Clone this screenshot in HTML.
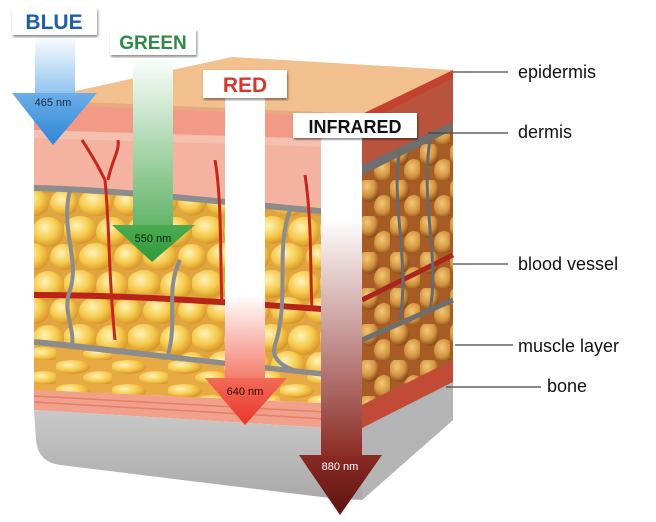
<!DOCTYPE html>
<html><head><meta charset="utf-8"><style>
html,body{margin:0;padding:0;background:#fff;width:656px;height:522px;overflow:hidden}
svg{display:block}
text{font-family:"Liberation Sans",sans-serif}
</style></head><body>
<svg width="656" height="522" viewBox="0 0 656 522" xmlns="http://www.w3.org/2000/svg">
<defs>
<radialGradient id="fatg" cx="40%" cy="35%" r="65%"><stop offset="0" stop-color="#fff3b8"/><stop offset="0.6" stop-color="#f5c94a"/><stop offset="1" stop-color="#d9962a"/></radialGradient>
<radialGradient id="fatb" cx="40%" cy="35%" r="65%"><stop offset="0" stop-color="#f2c877"/><stop offset="0.6" stop-color="#d39440"/><stop offset="1" stop-color="#8a4a1c"/></radialGradient>
<pattern id="fat" width="64" height="54" patternUnits="userSpaceOnUse">
<rect width="64" height="54" fill="#e0a540"/>
<ellipse cx="16" cy="14" rx="17" ry="14" fill="url(#fatg)"/>
<ellipse cx="48" cy="16" rx="16" ry="15" fill="url(#fatg)"/>
<ellipse cx="32" cy="41" rx="17" ry="14" fill="url(#fatg)"/>
<ellipse cx="0" cy="41" rx="14" ry="13" fill="url(#fatg)"/>
<ellipse cx="64" cy="41" rx="14" ry="13" fill="url(#fatg)"/>
</pattern>
<pattern id="fat2" width="56" height="24" patternUnits="userSpaceOnUse">
<rect width="56" height="24" fill="#e8aa45"/>
<ellipse cx="16" cy="7" rx="18" ry="7" fill="url(#fatg)"/>
<ellipse cx="44" cy="18" rx="17" ry="7" fill="url(#fatg)"/>
</pattern>
<pattern id="fatR" width="30" height="36" patternUnits="userSpaceOnUse">
<rect width="30" height="36" fill="#a65c24"/>
<ellipse cx="9" cy="10" rx="10" ry="12" fill="url(#fatb)"/>
<ellipse cx="24" cy="27" rx="10" ry="12" fill="url(#fatb)"/>
</pattern>
<linearGradient id="bone" x1="0" y1="0" x2="0" y2="1"><stop offset="0" stop-color="#c9c9c9"/><stop offset="1" stop-color="#a9a9a9"/></linearGradient>
<linearGradient id="gB" x1="0" y1="0" x2="0" y2="1"><stop offset="0" stop-color="#ffffff"/><stop offset="1" stop-color="#8fc3ee"/></linearGradient>
<linearGradient id="gBh" x1="0" y1="0" x2="0" y2="1"><stop offset="0" stop-color="#6aaee8"/><stop offset="1" stop-color="#2f86d6"/></linearGradient>
<linearGradient id="gG" x1="0" y1="0" x2="0" y2="1"><stop offset="0" stop-color="#ffffff"/><stop offset="1" stop-color="#63b468"/></linearGradient>
<linearGradient id="gGh" x1="0" y1="0" x2="0" y2="1"><stop offset="0" stop-color="#4cab50"/><stop offset="1" stop-color="#2e9a3b"/></linearGradient>
<linearGradient id="gR" x1="0" y1="0" x2="0" y2="1"><stop offset="0" stop-color="#ffffff"/><stop offset="0.7" stop-color="#ffffff"/><stop offset="1" stop-color="#f47a6a"/></linearGradient>
<linearGradient id="gRh" x1="0" y1="0" x2="0" y2="1"><stop offset="0" stop-color="#f36b58"/><stop offset="1" stop-color="#e8362a"/></linearGradient>
<linearGradient id="gI" x1="0" y1="0" x2="0" y2="1"><stop offset="0" stop-color="#ffffff"/><stop offset="0.25" stop-color="#ffffff"/><stop offset="1" stop-color="#8a2a24"/></linearGradient>
<linearGradient id="gIh" x1="0" y1="0" x2="0" y2="1"><stop offset="0" stop-color="#8a2a24"/><stop offset="1" stop-color="#5e1410"/></linearGradient>
<filter id="sh"><feDropShadow dx="1" dy="2" stdDeviation="1.2" flood-opacity="0.45"/></filter>
</defs>

<!-- right face -->
<polygon points="362,114 453,70 453,420 362,500" fill="url(#fatR)"/>
<polygon points="362,114 453,70 453,125 362,170" fill="#b8543e"/>
<polygon points="362,114 453,70 453,78 362,124" fill="#c2422e"/>
<polygon points="362,165 453,122 453,130 362,175" fill="#6e6e6e"/>
<path d="M362,300 L453,255" stroke="#a8261c" stroke-width="5"/>
<path d="M362,340 L453,300" stroke="#6e6e6e" stroke-width="5"/>
<polygon points="362,405 453,360 453,382 362,428" fill="#c14b36"/>
<polygon points="362,428 453,382 453,420 362,500" fill="#b4b4b4"/>
<path d="M400,150 C390,200 410,260 400,320 M430,140 C420,200 440,260 430,310" stroke="#6a6a6a" stroke-width="3" fill="none"/>

<!-- front face -->
<rect x="34" y="100" width="328" height="300" fill="url(#fat)"/>
<polygon points="34,100 362,114 362,210 34,188" fill="#f3b3a0"/>
<polygon points="34,100 362,114 362,140 34,130" fill="#f29a86"/>
<polygon points="34,130 362,140 362,148 34,138" fill="#f6c0b0"/>
<path d="M34,188 C120,190 200,200 362,215" stroke="#8c8c8c" stroke-width="6" fill="none"/>
<path d="M34,295 C120,295 200,300 362,312" stroke="#b8231a" stroke-width="6" fill="none"/>
<path d="M34,342 C120,350 220,365 362,378" stroke="#8c8c8c" stroke-width="6" fill="none"/>
<polygon points="34,345 362,381 362,405 34,390" fill="url(#fat2)"/>
<polygon points="34,390 362,405 362,430 34,410" fill="#f1a08c"/>
<path d="M34,396 L362,414 M34,402 L362,421" stroke="#e57f6a" stroke-width="1.5"/>
<path d="M34,410 L362,430 L362,500 L330,498 L60,465 Q38,462 36,440 Z" fill="url(#bone)"/>
<!-- vessels & septa -->
<path d="M105,180 C110,230 108,270 115,340 M82,140 C95,160 100,170 105,180 M108,180 C112,160 120,150 118,140" stroke="#c4271c" stroke-width="3" fill="none"/>
<path d="M215,160 C222,200 220,260 222,305" stroke="#c4271c" stroke-width="3" fill="none"/>
<path d="M305,175 C312,220 310,270 312,310" stroke="#c4271c" stroke-width="3" fill="none"/>
<path d="M70,190 C60,230 80,260 70,290 C62,310 75,330 72,345" stroke="#8c8c8c" stroke-width="4" fill="none"/>
<path d="M180,260 C165,290 178,320 168,355" stroke="#8c8c8c" stroke-width="4" fill="none"/>
<path d="M290,210 C275,250 290,300 275,345 C270,360 285,368 300,372" stroke="#8c8c8c" stroke-width="4" fill="none"/>

<!-- top face -->
<polygon points="34,100 232,57 453,70 362,114" fill="#f2c08e"/>
<polygon points="34,100 362,114 362,118 34,104" fill="#e8a880"/>

<!-- BLUE arrow -->
<rect x="35" y="35" width="40" height="60" fill="url(#gB)"/>
<polygon points="12,93 97,93 53,145" fill="url(#gBh)"/>
<text x="53" y="106" font-size="11" text-anchor="middle" fill="#1a2a40">465 nm</text>
<rect x="12" y="8" width="85" height="27" fill="#fff" filter="url(#sh)"/>
<text x="54" y="29" font-size="21" font-weight="bold" text-anchor="middle" fill="#1f5ea6">BLUE</text>

<!-- GREEN arrow -->
<rect x="133" y="55" width="40" height="172" fill="url(#gG)"/>
<polygon points="112,225 195,225 152,262" fill="url(#gGh)"/>
<text x="153" y="242" font-size="11" text-anchor="middle" fill="#102010">550 nm</text>
<rect x="110" y="29" width="86" height="26" fill="#fff" filter="url(#sh)"/>
<text x="153" y="49" font-size="19" font-weight="bold" text-anchor="middle" fill="#2f8a45">GREEN</text>

<!-- RED arrow -->
<rect x="225" y="98" width="40" height="282" fill="url(#gR)"/>
<polygon points="205,378 287,378 245,425" fill="url(#gRh)"/>
<text x="245" y="395" font-size="11" text-anchor="middle" fill="#2a0a0a">640 nm</text>
<rect x="203" y="70" width="84" height="28" fill="#fff" filter="url(#sh)"/>
<text x="245" y="92" font-size="21" font-weight="bold" text-anchor="middle" fill="#d23a30">RED</text>

<!-- INFRARED arrow -->
<rect x="321" y="138" width="41" height="320" fill="url(#gI)"/>
<polygon points="299,455 382,455 340,515" fill="url(#gIh)"/>
<text x="340" y="470" font-size="11" text-anchor="middle" fill="#fff">880 nm</text>
<rect x="293" y="113" width="124" height="25" fill="#fff" filter="url(#sh)"/>
<text x="355" y="133" font-size="18" font-weight="bold" text-anchor="middle" fill="#111">INFRARED</text>

<!-- labels -->
<g stroke="#444" stroke-width="1.3">
<line x1="453" y1="72" x2="508" y2="72"/>
<line x1="428" y1="133" x2="508" y2="133"/>
<line x1="453" y1="264" x2="508" y2="264"/>
<line x1="455" y1="345" x2="513" y2="345"/>
<line x1="446" y1="387" x2="541" y2="387"/>
</g>
<g font-size="18" fill="#111">
<text x="518" y="78">epidermis</text>
<text x="518" y="138">dermis</text>
<text x="518" y="270">blood vessel</text>
<text x="518" y="352">muscle layer</text>
<text x="547" y="392">bone</text>
</g>
</svg>
</body></html>
